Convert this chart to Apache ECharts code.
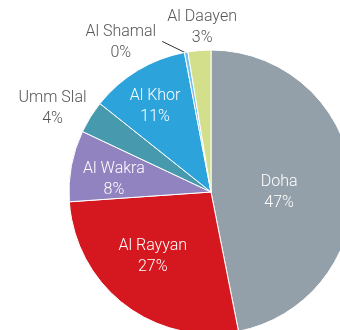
<!DOCTYPE html>
<html>
<head>
<meta charset="utf-8">
<style>
  html, body { margin: 0; padding: 0; background: #ffffff; }
  #chart { width: 340px; height: 330px; }
</style>
<script src="https://cdn.jsdelivr.net/npm/echarts@6/dist/echarts.min.js"></script>
</head>
<body>
<div id="chart"></div>
<script>
// Share of population by municipality (%)
const categories = ['Doha', 'Al Rayyan', 'Al Wakra', 'Umm Slal', 'Al Khor', 'Al Shamal', 'Al Daayen'];
const shares = [46.9, 27.0, 8.1, 3.7, 11.3, 0.4, 2.6];

// Slice colours, in category order
const sliceColors = ['#939fa9', '#d5181f', '#9183bf', '#4799ae', '#2da3dc', '#6ec1ec', '#d3df8b'];

// Label placement: [radius as fraction of pie radius, angle nudge in degrees, inside?]
const labelPlacement = [
  [0.48, 6.4, true],
  [0.61, 4.8, true],
  [0.69, -3.0, true],
  [1.26, -4.2, false],
  [0.72, -2.0, true],
  [1.23, -21.0, false],
  [1.16, 1.6, false]
];

const CX = 211, CY = 192, R = 142;
const total = shares.reduce((a, b) => a + b, 0);

// Mid angle of each slice, clockwise from 12 o'clock, in degrees
const midAngles = [];
let acc = 0;
shares.forEach(v => {
  const span = v / total * 360;
  midAngles.push(acc + span / 2);
  acc += span;
});

function polar(r, deg) {
  const a = deg * Math.PI / 180;
  return [CX + r * Math.sin(a), CY - r * Math.cos(a)];
}

const chart = echarts.init(document.getElementById('chart'), null, { renderer: 'canvas' });

const data = categories.map((name, i) => {
  const inside = labelPlacement[i][2];
  return {
    name: name,
    value: shares[i],
    itemStyle: { color: sliceColors[i] },
    label: {
      position: inside ? 'inside' : 'outside',
      color: inside ? '#ffffff' : '#555555'
    },
    labelLine: {
      show: name === 'Al Shamal',
      lineStyle: { color: '#333333', width: 1 }
    }
  };
});

chart.setOption({
  animation: false,
  series: [{
    type: 'pie',
    center: [CX, CY],
    radius: [0, R],
    startAngle: 90,
    clockwise: true,
    avoidLabelOverlap: false,
    itemStyle: { borderColor: '#ffffff', borderWidth: 1 },
    label: {
      show: true,
      fontFamily: 'Roboto, Liberation Sans, Arial, sans-serif',
      fontWeight: 300,
      fontSize: 16,
      lineHeight: 21,
      align: 'center',
      formatter: p => p.name + '\n' + Math.round(p.value) + '%'
    },
    labelLayout: function (params) {
      const i = params.dataIndex;
      const pl = labelPlacement[i];
      const pos = polar(pl[0] * R, midAngles[i] + pl[1]);
      const out = { x: pos[0], y: pos[1], align: 'center', verticalAlign: 'middle' };
      if (categories[i] === 'Al Shamal') {
        const edge = polar(R - 1, midAngles[i]);
        const w = params.labelRect ? params.labelRect.width : 70;
        out.labelLinePoints = [[pos[0] + w / 2 + 6, pos[1] - 1], edge, edge];
      }
      return out;
    },
    emphasis: { disabled: true },
    data: data
  }]
});
</script>
</body>
</html>
